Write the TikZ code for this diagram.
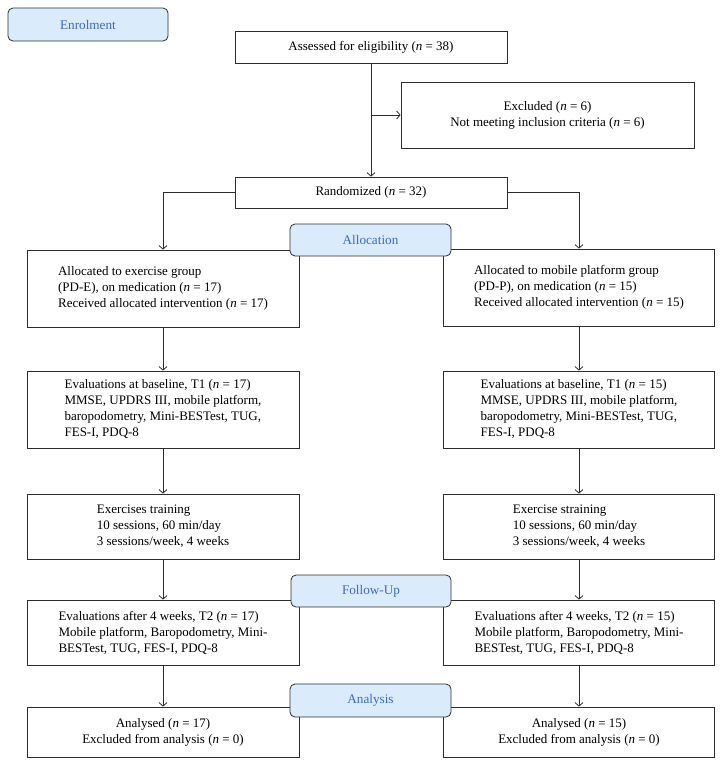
\documentclass[tikz,border=0pt]{standalone}
\usepackage{fontspec}
\setmainfont{Liberation Serif}
\usetikzlibrary{arrows.meta}
\definecolor{linec}{RGB}{45,45,45}
\definecolor{labfill}{RGB}{218,236,252}
\definecolor{labtext}{RGB}{62,104,196}
\tikzset{
  box/.style={draw=linec, line width=0.8pt, fill=white, inner sep=0pt, align=left,
    font=\fontsize{13}{16}\selectfont, anchor=center},
  cbox/.style={box, align=center},
  lab/.style={draw=linec, line width=0.8pt, rounded corners=5pt, fill=labfill, text=labtext,
    inner sep=0pt, font=\fontsize{13.2}{15}\selectfont, anchor=center},
  arr/.style={draw=linec, line width=0.8pt, -{Straight Barb[length=3.5pt,width=8pt]}}
}
\newcommand{\nn}{\textit{n}}
\begin{document}
\begin{tikzpicture}[x=1pt,y=-1pt]
\useasboundingbox (0,0) rectangle (724,766);
% boxes
\node[cbox, minimum width=272pt, minimum height=32pt] (assessed) at (371,47) {Assessed for eligibility (\nn{} = 38)};
\node[cbox, minimum width=293pt, minimum height=66pt] (excluded) at (547.5,115) {Excluded (\nn{} = 6)\\Not meeting inclusion criteria (\nn{} = 6)};
\node[cbox, minimum width=272pt, minimum height=31pt] (rand) at (371,192.5) {Randomized (\nn{} = 32)};
\node[box, minimum width=272pt, minimum height=77pt] (allocL) at (163,288.5) {Allocated to exercise group\\(PD-E), on medication (\nn{} = 17)\\Received allocated intervention (\nn{} = 17)};
\node[box, minimum width=271pt, minimum height=77pt] (allocR) at (579,287.5) {Allocated to mobile platform group\\(PD-P), on medication (\nn{} = 15)\\Received allocated intervention (\nn{} = 15)};
\node[box, minimum width=272pt, minimum height=77pt] (t1L) at (163,409.5) {Evaluations at baseline, T1 (\nn{} = 17)\\MMSE, UPDRS III, mobile platform,\\baropodometry, Mini-BESTest, TUG,\\FES-I, PDQ-8};
\node[box, minimum width=271pt, minimum height=77pt] (t1R) at (579,409.5) {Evaluations at baseline, T1 (\nn{} = 15)\\MMSE, UPDRS III, mobile platform,\\baropodometry, Mini-BESTest, TUG,\\FES-I, PDQ-8};
\node[box, minimum width=272pt, minimum height=65pt] (exL) at (163,526.5) {Exercises training\\10 sessions, 60 min/day\\3 sessions/week, 4 weeks};
\node[box, minimum width=271pt, minimum height=65pt] (exR) at (579,526.5) {Exercise straining\\10 sessions, 60 min/day\\3 sessions/week, 4 weeks};
\node[box, minimum width=272pt, minimum height=65pt] (t2L) at (163,632.5) {Evaluations after 4 weeks, T2 (\nn{} = 17)\\Mobile platform, Baropodometry, Mini-\\BESTest, TUG, FES-I, PDQ-8};
\node[box, minimum width=271pt, minimum height=65pt] (t2R) at (579,632.5) {Evaluations after 4 weeks, T2 (\nn{} = 15)\\Mobile platform, Baropodometry, Mini-\\BESTest, TUG, FES-I, PDQ-8};
\node[cbox, minimum width=272pt, minimum height=50pt] (anL) at (163,732) {Analysed (\nn{} = 17)\\Excluded from analysis (\nn{} = 0)};
\node[cbox, minimum width=271pt, minimum height=50pt] (anR) at (579,732) {Analysed (\nn{} = 15)\\Excluded from analysis (\nn{} = 0)};
% connectors
\draw[arr] (assessed.south) -- (assessed.south |- rand.north);
\coordinate (br) at (assessed.south |- excluded.west);
\draw[arr] (br) -- (excluded.west);
\draw[arr] (rand.west) -| (allocL.north);
\draw[arr] (rand.east) -| (allocR.north);
\draw[arr] (allocL.south) -- (t1L.north);
\draw[arr] (allocR.south) -- (t1R.north);
\draw[arr] (t1L.south) -- (exL.north);
\draw[arr] (t1R.south) -- (exR.north);
\draw[arr] (exL.south) -- (t2L.north);
\draw[arr] (exR.south) -- (t2R.north);
\draw[arr] (t2L.south) -- (anL.north);
\draw[arr] (t2R.south) -- (anR.north);
% stage labels
\node[lab, minimum width=160pt, minimum height=33pt] (enrol) at (88,24.5) {Enrolment};
\node[lab, minimum width=161pt, minimum height=32pt] (alloc) at (370.5,240) {Allocation};
\node[lab, minimum width=160pt, minimum height=32pt] (follow) at (371,591) {Follow-Up};
\node[lab, minimum width=161pt, minimum height=33pt] (analysis) at (370.5,700.5) {Analysis};
\end{tikzpicture}
\end{document}
